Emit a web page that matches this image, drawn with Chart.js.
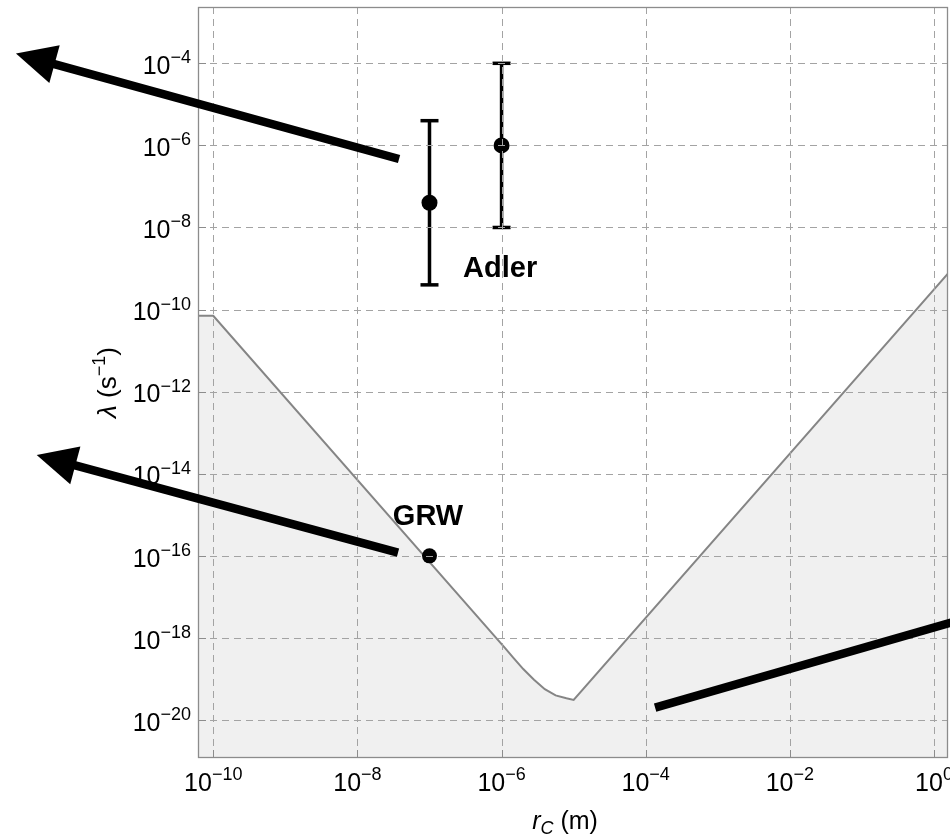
<!DOCTYPE html>
<html><head><meta charset="utf-8">
<script src="https://cdn.jsdelivr.net/npm/chart.js@4.4.0/dist/chart.umd.min.js"></script>
<style>html,body{margin:0;padding:0;background:#fff;overflow:hidden}#wrap{width:950px;height:839px}</style>
</head><body><div id="wrap"><canvas id="c" width="950" height="839"></canvas></div>
<script>
// ---- data ----
const xTickExps = [-10, -8, -6, -4, -2, 0];
const yTickExps = [-20, -18, -16, -14, -12, -10, -8, -6, -4];
const xRange = [6.14e-11, 1.563];
const yRange = [1.186e-21, 2.355e-3];

// boundary of the excluded (shaded) region
const boundaryR      = [3.16e-11, 1e-10,   1.12e-6, 1.45e-6, 2.0e-6,  2.82e-6, 3.98e-6, 5.62e-6, 7.94e-6, 1e-5,    3.16];
const boundaryLambda = [7.08e-11, 7.08e-11, 5.62e-19, 3.31e-19, 1.74e-19, 9.55e-20, 5.62e-20, 3.98e-20, 3.39e-20, 3.09e-20, 3.09e-9];

const grwR = [1e-7];
const grwLambda = [1e-16];

const adlerR = [1e-7, 1e-6];
const adlerLambda = [4e-8, 1e-6];
const adlerLow = [4e-10, 1e-8];
const adlerHigh = [4e-6, 1e-4];

// annotation text and arrows (anchored in data coordinates)
const labelText = ['Adler', 'GRW'];
const labelR = [2.92e-7, 3.1e-8];
const labelLambda = [6.1e-10, 5.6e-16];
const arrowFromR = [3.78e-8, 3.66e-8, 1.35e-4];
const arrowFromLambda = [4.66e-7, 1.2e-16, 2.01e-20];
const arrowToR = [1.83e-13, 3.55e-13, 56];
const arrowToLambda = [1.73e-4, 2.86e-14, 1.36e-17];

const FONT = '"Liberation Sans", Arial, Helvetica, sans-serif';

function drawPow(ctx, exp, x, y, align) {
  const base = '10';
  const sup = exp < 0 ? '\u2212' + (-exp) : String(exp);
  ctx.font = '25px ' + FONT;
  const wb = ctx.measureText(base).width;
  ctx.font = '18px ' + FONT;
  const ws = ctx.measureText(sup).width;
  const x0 = align === 'center' ? x - (wb + ws) / 2 : x - (wb + ws);
  ctx.textAlign = 'left';
  ctx.textBaseline = 'alphabetic';
  ctx.font = '25px ' + FONT;
  ctx.fillText(base, x0, y);
  ctx.font = '18px ' + FONT;
  ctx.fillText(sup, x0 + wb, y - 10.7);
}

function drawArrow(ctx, x1, y1, x2, y2) {
  const ang = Math.atan2(y2 - y1, x2 - x1);
  const c = Math.cos(ang), s = Math.sin(ang);
  const L = 40, W = 19.5;
  const bx = x2 - L * c, by = y2 - L * s;
  ctx.strokeStyle = '#000';
  ctx.lineWidth = 8.5;
  ctx.lineCap = 'butt';
  ctx.beginPath();
  ctx.moveTo(x1, y1);
  ctx.lineTo(bx + 4 * c, by + 4 * s);
  ctx.stroke();
  ctx.fillStyle = '#000';
  ctx.beginPath();
  ctx.moveTo(x2, y2);
  ctx.lineTo(bx - W * s, by + W * c);
  ctx.lineTo(bx + W * s, by - W * c);
  ctx.closePath();
  ctx.fill();
}

const overlay = {
  id: 'overlay',
  afterDatasetsDraw(chart) {
    const { ctx, chartArea: a, scales: { x, y } } = chart;
    // grid on top of data
    ctx.save();
    ctx.beginPath();
    ctx.rect(a.left, a.top, a.right - a.left, a.bottom - a.top);
    ctx.clip();
    ctx.strokeStyle = '#a3a3a3';
    ctx.lineWidth = 1;
    ctx.setLineDash([7, 5]);
    xTickExps.forEach(e => {
      const px = Math.round(x.getPixelForValue(10 ** e)) + 0.5;
      ctx.beginPath(); ctx.moveTo(px, a.bottom); ctx.lineTo(px, a.top); ctx.stroke();
    });
    yTickExps.forEach(e => {
      const py = Math.round(y.getPixelForValue(10 ** e)) + 0.5;
      ctx.beginPath(); ctx.moveTo(a.left, py); ctx.lineTo(a.right, py); ctx.stroke();
    });
    ctx.setLineDash([]);
    // tick marks
    ctx.strokeStyle = '#8c8c8c';
    ctx.lineWidth = 1;
    xTickExps.forEach(e => {
      const px = Math.round(x.getPixelForValue(10 ** e)) + 0.5;
      ctx.beginPath(); ctx.moveTo(px, a.bottom); ctx.lineTo(px, a.bottom - 8); ctx.stroke();
    });
    yTickExps.forEach(e => {
      const py = Math.round(y.getPixelForValue(10 ** e)) + 0.5;
      ctx.beginPath(); ctx.moveTo(a.left, py); ctx.lineTo(a.left + 8, py); ctx.stroke();
    });
    ctx.restore();

    // frame
    ctx.save();
    ctx.strokeStyle = '#8c8c8c';
    ctx.lineWidth = 1.3;
    ctx.strokeRect(a.left + 0.5, a.top + 0.5, a.right - a.left - 1, a.bottom - a.top - 1);
    ctx.restore();

    // tick labels
    ctx.save();
    ctx.fillStyle = '#000';
    xTickExps.forEach(e => drawPow(ctx, e, x.getPixelForValue(10 ** e), a.bottom + 32.7, 'center'));
    yTickExps.forEach(e => drawPow(ctx, e, a.left - 7, y.getPixelForValue(10 ** e) + 10.7, 'right'));
    ctx.restore();

    // x axis title: r_C (m)
    ctx.save();
    ctx.fillStyle = '#000';
    ctx.textBaseline = 'alphabetic';
    ctx.textAlign = 'left';
    const p1 = 'r', p2 = 'C', p3 = ' (m)';
    ctx.font = 'italic 25px ' + FONT; const w1 = ctx.measureText(p1).width;
    ctx.font = 'italic 18px ' + FONT; const w2 = ctx.measureText(p2).width;
    ctx.font = '25px ' + FONT; const w3 = ctx.measureText(p3).width;
    let xc = (a.left + a.right) / 2 - 8 - (w1 + w2 + w3) / 2;
    const yb = a.bottom + 71;
    ctx.font = 'italic 25px ' + FONT; ctx.fillText(p1, xc, yb); xc += w1;
    ctx.font = 'italic 18px ' + FONT; ctx.fillText(p2, xc, yb + 5); xc += w2;
    ctx.font = '25px ' + FONT; ctx.fillText(p3, xc, yb);
    ctx.restore();

    // y axis title: λ (s^-1)
    ctx.save();
    ctx.fillStyle = '#000';
    ctx.translate(a.left - 82, (a.top + a.bottom) / 2);
    ctx.rotate(-Math.PI / 2);
    ctx.textBaseline = 'alphabetic';
    ctx.textAlign = 'left';
    const q1 = '\u03BB', q2 = ' (s', q3 = '\u22121', q4 = ')';
    ctx.font = 'italic 26px ' + FONT; const v1 = ctx.measureText(q1).width;
    ctx.font = '26px ' + FONT; const v2 = ctx.measureText(q2).width;
    ctx.font = '18px ' + FONT; const v3 = ctx.measureText(q3).width;
    ctx.font = '26px ' + FONT; const v4 = ctx.measureText(q4).width;
    let t = -(v1 + v2 + v3 + v4) / 2;
    ctx.font = 'italic 26px ' + FONT; ctx.fillText(q1, t, 0); t += v1;
    ctx.font = '26px ' + FONT; ctx.fillText(q2, t, 0); t += v2;
    ctx.font = '18px ' + FONT; ctx.fillText(q3, t, -11); t += v3;
    ctx.font = '26px ' + FONT; ctx.fillText(q4, t, 0);
    ctx.restore();

    // annotation labels
    ctx.save();
    ctx.fillStyle = '#000';
    ctx.font = 'bold 29px ' + FONT;
    ctx.textAlign = 'left';
    ctx.textBaseline = 'alphabetic';
    labelText.forEach((txt, i) => {
      ctx.fillText(txt, x.getPixelForValue(labelR[i]), y.getPixelForValue(labelLambda[i]));
    });
    ctx.restore();

    // arrows
    ctx.save();
    arrowFromR.forEach((r, i) => {
      drawArrow(ctx,
        x.getPixelForValue(r), y.getPixelForValue(arrowFromLambda[i]),
        x.getPixelForValue(arrowToR[i]), y.getPixelForValue(arrowToLambda[i]));
    });
    ctx.restore();
  }
};

const datasets = [];
datasets.push({
  label: 'boundary',
  data: boundaryR.map((r, i) => ({ x: r, y: boundaryLambda[i] })),
  showLine: true,
  fill: 'start',
  backgroundColor: '#f0f0f0',
  borderColor: '#858585',
  borderWidth: 2,
  pointRadius: 0,
  order: 10
});
adlerR.forEach((r, i) => {
  datasets.push({
    label: 'Adler error ' + i,
    data: [{ x: r, y: adlerLow[i] }, { x: r, y: adlerHigh[i] }],
    showLine: true,
    fill: false,
    borderColor: '#000',
    borderWidth: 3.5,
    pointStyle: 'line',
    pointRadius: 9,
    pointBorderWidth: 3.5,
    pointBorderColor: '#000',
    order: 5
  });
});
datasets.push({
  label: 'Adler',
  data: adlerR.map((r, i) => ({ x: r, y: adlerLambda[i] })),
  pointRadius: 8,
  backgroundColor: '#000',
  borderWidth: 0,
  order: 1
});
datasets.push({
  label: 'GRW',
  data: grwR.map((r, i) => ({ x: r, y: grwLambda[i] })),
  pointRadius: 7.5,
  backgroundColor: '#000',
  borderWidth: 0,
  order: 1
});

new Chart(document.getElementById('c'), {
  type: 'scatter',
  data: { datasets },
  options: {
    responsive: false,
    devicePixelRatio: 1,
    animation: false,
    layout: { autoPadding: false, padding: { left: 198, right: 2, top: 7, bottom: 81 } },
    plugins: { legend: { display: false }, tooltip: { enabled: false } },
    scales: {
      x: { type: 'logarithmic', min: xRange[0], max: xRange[1], display: false },
      y: { type: 'logarithmic', min: yRange[0], max: yRange[1], display: false }
    }
  },
  plugins: [overlay]
});
</script>
</body></html>
